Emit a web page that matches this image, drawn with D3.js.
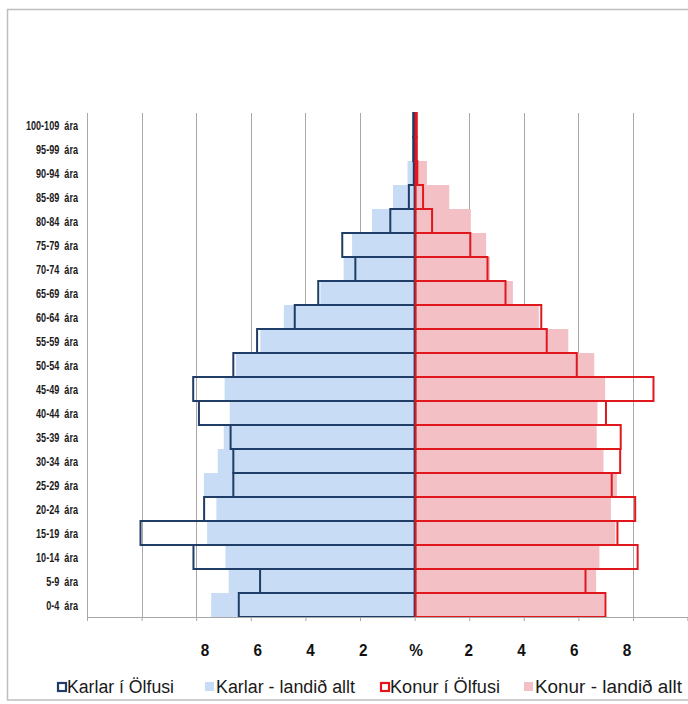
<!DOCTYPE html>
<html><head><meta charset="utf-8">
<script src="https://cdn.jsdelivr.net/npm/d3@7"></script>
<style>body{margin:0;background:#fff}svg{display:block}</style>
</head><body>
<svg id="c" width="688" height="704"></svg>
<script>
// ---- data (bottom to top) ----
const categories = ["0-4  ára","5-9  ára","10-14  ára","15-19  ára","20-24  ára","25-29  ára","30-34  ára","35-39  ára","40-44  ára","45-49  ára","50-54  ára","55-59  ára","60-64  ára","65-69  ára","70-74  ára","75-79  ára","80-84  ára","85-89  ára","90-94  ára","95-99  ára","100-109  ára"];
const karlarOlfus  = [6.44,5.66,8.10,10.04,7.71,6.64,6.64,6.74,7.90,8.11,6.64,5.77,4.39,3.53,2.17,2.65,0.89,0.21,0.03,0.05,0.05];
const karlarLandid = [7.45,6.81,6.93,7.60,7.26,7.72,7.21,6.99,6.77,6.96,6.55,5.65,4.79,3.45,2.60,2.29,1.56,0.79,0.26,0.05,0.01];
const konurOlfus   = [6.99,6.26,8.17,7.43,8.08,7.22,7.53,7.55,7.01,8.75,5.94,4.84,4.64,3.33,2.67,2.04,0.64,0.31,0.10,0.08,0.08];
const konurLandid  = [6.95,6.65,6.77,7.35,7.19,7.41,6.92,6.67,6.70,6.98,6.58,5.63,4.55,3.60,2.76,2.62,2.06,1.27,0.45,0.10,0.02];
const tickValues = [-8,-6,-4,-2,0,2,4,6,8];
const tickLabels = ["8","6","4","2","%","2","4","6","8"];
const legendLabels = ["Karlar í Ölfusi","Karlar - landið allt","Konur í Ölfusi","Konur - landið allt"];

const C = {navy:"#1F3D66", red:"#E0181E", lblue:"#C8DCF5", pink:"#F3C1C5", grid:"#A8A8A8"};

const svg = d3.select("#c");
const plot = {left:87, right:687.6, top:113, bottom:617};

const x = d3.scaleLinear().domain([-12,10]).range([plot.left, plot.right]);
const y = d3.scaleBand().domain(categories.slice().reverse()).range([plot.top, plot.bottom]).padding(0);

// frame
svg.append("rect").attr("x",7.5).attr("y",9.5).attr("width",700).attr("height",690.5)
  .attr("fill","none").attr("stroke","#bdbdbd").attr("stroke-width",1.5);

// gridlines
svg.append("g").selectAll("line").data(d3.range(-10,11,2)).join("line")
  .attr("x1",d=>Math.round(x(d))+0.5).attr("x2",d=>Math.round(x(d))+0.5)
  .attr("y1",plot.top).attr("y2",plot.bottom)
  .attr("stroke",C.grid).attr("stroke-width",1);

// left axis line
svg.append("line").attr("x1",plot.left+0.5).attr("x2",plot.left+0.5)
  .attr("y1",plot.top).attr("y2",plot.bottom).attr("stroke",C.grid);

const rows = categories.map((c,i)=>({c, ko:karlarOlfus[i], kl:karlarLandid[i], wo:konurOlfus[i], wl:konurLandid[i]}));

// fills (national)
svg.append("g").selectAll("rect").data(rows).join("rect")
  .attr("x",d=>x(-d.kl)).attr("width",d=>x(0)-x(-d.kl))
  .attr("y",d=>y(d.c)).attr("height",y.bandwidth()).attr("fill",C.lblue);
svg.append("g").selectAll("rect").data(rows).join("rect")
  .attr("x",x(0)).attr("width",d=>x(d.wl)-x(0))
  .attr("y",d=>y(d.c)).attr("height",y.bandwidth()).attr("fill",C.pink);

// outlines (Ölfus)
svg.append("g").selectAll("rect").data(rows).join("rect")
  .attr("x",d=>x(-d.ko)).attr("width",d=>x(0)-x(-d.ko))
  .attr("y",d=>y(d.c)).attr("height",y.bandwidth())
  .attr("fill","none").attr("stroke",C.navy).attr("stroke-width",2);
svg.append("g").selectAll("rect").data(rows).join("rect")
  .attr("x",x(0)+1).attr("width",d=>x(d.wo)-x(0)-1)
  .attr("y",d=>y(d.c)).attr("height",y.bandwidth())
  .attr("fill","none").attr("stroke",C.red).attr("stroke-width",2);

// bottom axis
const xAxis = d3.axisBottom(x).tickValues(d3.range(-12,11,2)).tickSize(4).tickFormat("");
const gx = svg.append("g").attr("transform",`translate(0,${plot.bottom})`).call(xAxis);
gx.select(".domain").attr("stroke",C.grid);
gx.selectAll(".tick line").attr("stroke",C.grid);

// category labels (condensed)
svg.append("g").selectAll("text").data(categories).join("text")
  .attr("transform",d=>`translate(78,${y(d)+y.bandwidth()/2+4.5}) scale(0.7,1)`)
  .attr("text-anchor","end")
  .attr("font-family","'Liberation Sans',Arial,sans-serif")
  .attr("font-weight","bold").attr("font-size",13).attr("fill","#1a1a1a")
  .attr("xml:space","preserve").style("white-space","pre")
  .text(d=>d);

// value labels (text-box style positions)
const lx = d3.scalePoint().domain(tickValues).range([205,627]);
svg.append("g").selectAll("text").data(tickValues).join("text")
  .attr("transform",d=>`translate(${lx(d)},656) scale(0.9,1)`).attr("text-anchor","middle")
  .attr("font-family","'Liberation Sans',Arial,sans-serif")
  .attr("font-weight","bold").attr("font-size",17).attr("fill","#111")
  .text((d,i)=>tickLabels[i]);

// legend
const lgX = [57,205,380,524];
const lgW = [107,139,110,147];
const lg = svg.append("g").selectAll("g").data(legendLabels).join("g")
  .attr("transform",(d,i)=>`translate(${lgX[i]},687)`);
lg.append("rect")
  .attr("x",(d,i)=>i%2===0?1:0).attr("y",(d,i)=>i%2===0?-4:-5)
  .attr("width",(d,i)=>i%2===0?8:9).attr("height",(d,i)=>i%2===0?8:9)
  .attr("fill",(d,i)=>[ "#fff", C.lblue, "#fff", C.pink][i])
  .attr("stroke",(d,i)=>[C.navy,"none",C.red,"none"][i])
  .attr("stroke-width",2.2);
lg.append("text").attr("x",(d,i)=>i%2===0?10:11).attr("y",6)
  .attr("font-family","'Liberation Sans',Arial,sans-serif")
  .attr("font-size",18).attr("fill","#1a1a1a")
  .attr("textLength",(d,i)=>lgW[i]).attr("lengthAdjust","spacingAndGlyphs")
  .text(d=>d);
</script>
</body></html>
